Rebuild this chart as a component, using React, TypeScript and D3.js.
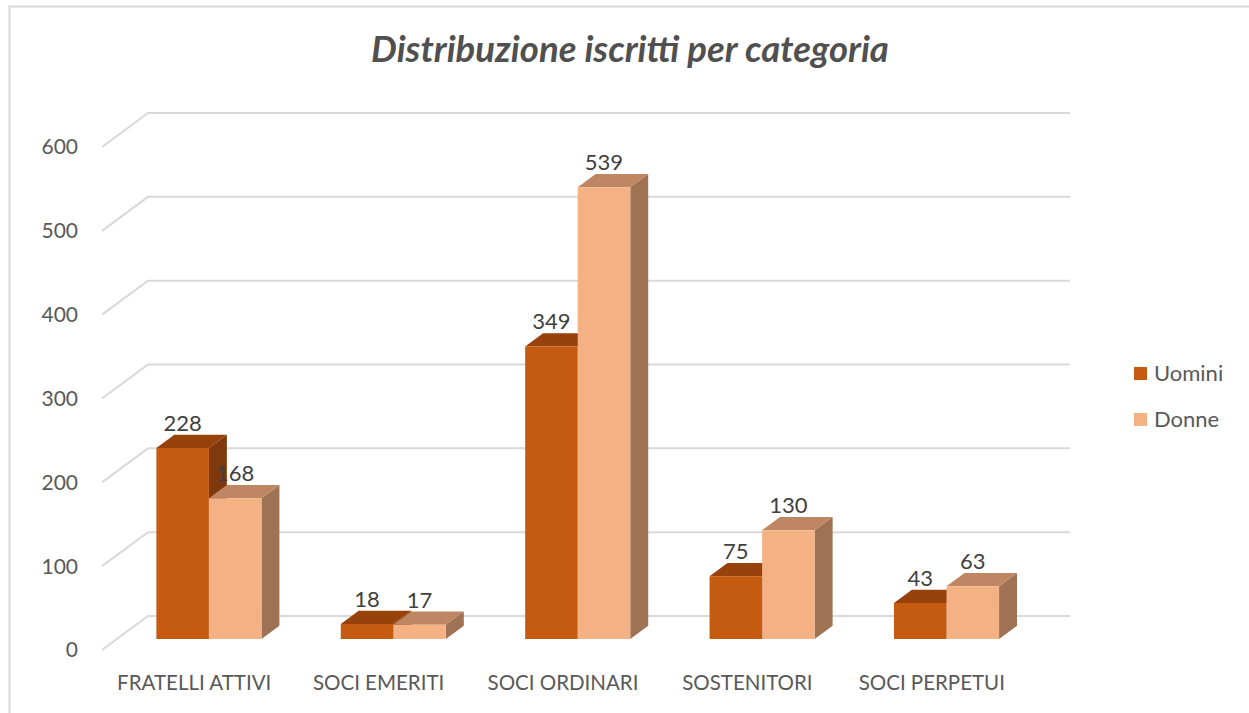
import React from 'react';
import * as d3 from 'd3';

// chart data
const categories = ['FRATELLI ATTIVI', 'SOCI EMERITI', 'SOCI ORDINARI', 'SOSTENITORI', 'SOCI PERPETUI'];
const uomini = [228, 18, 349, 75, 43];
const donne = [168, 17, 539, 130, 63];
const seriesNames = ['Uomini', 'Donne'];
const yTicks = [0, 100, 200, 300, 400, 500, 600];

const W = 1249;
const H = 713;
const FONT = 'Lato, "Open Sans", sans-serif';

// face colours per series: front, top, side
const palette = [
  { front: '#C55A11', top: '#97420B', side: '#7E390C' },
  { front: '#F4B183', top: '#BE8662', side: '#9E7252' },
];

// oblique depth offset (full depth of the plot)
const DEPTH_X = 46;
const DEPTH_Y = -34;
const Z0 = 0.32; // bar front
const Z1 = 0.71; // bar back

export default function App() {
  const x = d3.scaleBand<string>()
    .domain(categories)
    .range([102, 1024])
    .paddingInner(0.43)
    .paddingOuter(0.215);

  const y = d3.scaleLinear().domain([0, 600]).range([650, 147]);

  const proj = (px: number, v: number, z: number): [number, number] =>
    [px + DEPTH_X * z, y(v) + DEPTH_Y * z];

  const pts = (arr: [number, number][]) => arr.map(p => p.join(',')).join(' ');

  const bw = x.bandwidth() / 2;

  const bars: React.ReactNode[] = [];
  categories.forEach((c, ci) => {
    [uomini[ci], donne[ci]].forEach((v, si) => {
      const x0 = (x(c) as number) + si * bw;
      const x1 = x0 + bw;
      const col = palette[si];
      const f = [proj(x0, 0, Z0), proj(x1, 0, Z0), proj(x1, v, Z0), proj(x0, v, Z0)];
      const t = [proj(x0, v, Z0), proj(x1, v, Z0), proj(x1, v, Z1), proj(x0, v, Z1)];
      const s = [proj(x1, 0, Z0), proj(x1, 0, Z1), proj(x1, v, Z1), proj(x1, v, Z0)];
      const lx = proj(x0 + bw / 2, v, Z0)[0];
      const ly = proj(x0, v, Z1)[1];
      bars.push(
        <g key={`${ci}-${si}`}>
          <polygon points={pts(s)} fill={col.side} />
          <polygon points={pts(t)} fill={col.top} />
          <polygon points={pts(f)} fill={col.front} />
          <text x={lx} y={ly - 4} textAnchor="middle"
            fontSize={22} fill="#404040" fontFamily={FONT}>{v}</text>
        </g>
      );
    });
  });

  return (
    <svg width={W} height={H} style={{ position: 'absolute', left: 0, top: 0, background: '#fff' }}>
      <rect x={9.5} y={6.5} width={W} height={H} fill="none" stroke="#D9D9D9" strokeWidth={2} />

      <text x={630} y={62} textAnchor="middle" fontSize={36.5} fontWeight="bold" fontStyle="italic"
        fill="#505050" fontFamily={FONT}>Distribuzione iscritti per categoria</text>

      {/* gridlines: left wall diagonal + back wall */}
      {yTicks.map(t => {
        const a = proj(102, t, 0);
        const b = proj(102, t, 1);
        const c = proj(1024, t, 1);
        return (
          <g key={t}>
            <polyline points={pts([a, b, c])} fill="none" stroke="#D9D9D9" strokeWidth={2} />
            <text x={78} y={y(t)} dy="0.35em" textAnchor="end" fontSize={21} fill="#595959"
              fontFamily={FONT}>{t}</text>
          </g>
        );
      })}

      {bars}

      {categories.map(c => (
        <text key={c} x={(x(c) as number) + x.bandwidth() / 2} y={690} textAnchor="middle"
          fontSize={20.5} fill="#595959" fontFamily={FONT}>{c}</text>
      ))}

      {seriesNames.map((n, i) => (
        <g key={n} transform={`translate(1134,${367 + i * 46})`}>
          <rect width={13} height={13} fill={palette[i].front} />
          <text x={20} y={6.5} dy="0.35em" fontSize={22} fill="#595959" fontFamily={FONT}>{n}</text>
        </g>
      ))}
    </svg>
  );
}
